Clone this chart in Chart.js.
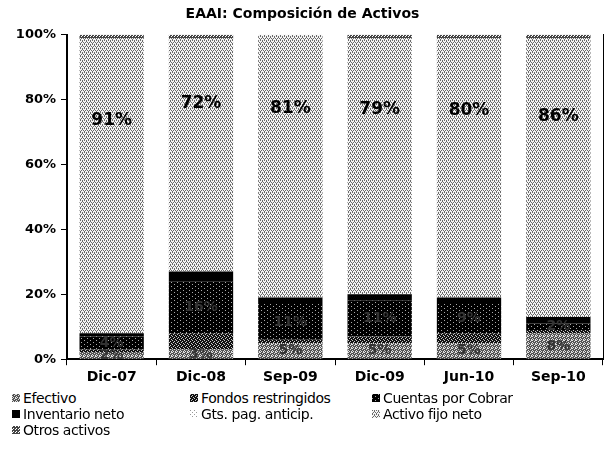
<!DOCTYPE html>
<html>
<head>
<meta charset="utf-8">
<script src="https://cdn.jsdelivr.net/npm/chart.js@4.4.0/dist/chart.umd.min.js"></script>
<style>
	body { margin: 0; background: #fff; }
	#wrap { width: 605px; height: 451px; position: relative; }
	#legend { position: absolute; left: 12px; top: 390px; width: 593px; display: grid;
		grid-template-columns: 178px 182px 230px; row-gap: 0;
		font: 14px "DejaVu Sans", sans-serif; color: #000; letter-spacing: -0.4px; }
	#legend span { display: flex; align-items: center; height: 16px; }
	#legend canvas { margin-right: 3px; }
</style>
</head>
<body>
<div id="wrap">
	<canvas id="assetChart" width="605" height="390"></canvas>
	<div id="legend"></div>
</div>
<script>
"use strict"

const periods = ["Dic-07", "Dic-08", "Sep-09", "Dic-09", "Jun-10", "Sep-10"]
const seriesNames = ["Efectivo", "Fondos restringidos", "Cuentas por Cobrar", "Inventario neto", "Gts. pag. anticip.", "Activo fijo neto", "Otros activos"]

const efectivo = [2, 3, 5, 5, 5, 8]
const fondosRestringidos = [1, 5, 1, 2, 3, 1]
const cuentasPorCobrar = [4, 16, 11, 11, 9, 2]
const inventarioNeto = [1, 3, 2, 2, 2, 2]
const gastosAnticipados = [0, 0, 0, 0, 0, 0]
const activoFijoNeto = [91, 72, 81, 79, 80, 86]
const otrosActivos = [1, 1, 0, 1, 1, 1]

const yTicks = [0, 20, 40, 60, 80, 100]

// little bitmap tiles for the excel-ish hatch fills
function makeTile(bg, fg, rows) {
	let c = document.createElement("canvas")
	c.width = rows[0].length
	c.height = rows.length
	let g = c.getContext("2d")
	g.fillStyle = bg
	g.fillRect(0, 0, c.width, c.height)
	g.fillStyle = fg
	rows.forEach((row, y) => {
		for (let x = 0; x < row.length; x++) {
			if (row[x] === "#") g.fillRect(x, y, 1, 1)
		}
	})
	return c
}

const tiles = [
	makeTile("#555555", "#e0e0e0", ["#..#", "..#.", "#...", ".#.#"]),
	makeTile("#111111", "#c8c8c8", ["#...", "..#.", ".#..", "...#"]),
	makeTile("#000000", "#aaaaaa", ["#.....", "......", "...#..", "......"]),
	makeTile("#000000", "#000000", ["."]),
	makeTile("#ffffff", "#999999", ["#...", "....", "..#.", "...."]),
	makeTile("#f4f4f4", "#6a6a6a", ["#.#.", "..#.", ".#.#", "#..."]),
	makeTile("#444444", "#ffffff", ["#..", "...", ".#."]),
]

let ctx = document.getElementById("assetChart").getContext("2d")
const fills = tiles.map((t) => ctx.createPattern(t, "repeat"))

const values = [efectivo, fondosRestringidos, cuentasPorCobrar, inventarioNeto, gastosAnticipados, activoFijoNeto, otrosActivos]
const labelStyle = { 0: "dark", 2: "dark", 5: "big" }

const segmentLabels = {
	id: "segmentLabels",
	afterDatasetsDraw(chart) {
		let g = chart.ctx
		let y = chart.scales.y
		g.save()
		g.textAlign = "center"
		g.textBaseline = "middle"
		chart.data.datasets.forEach((ds, i) => {
			let kind = labelStyle[i]
			if (!kind) return
			chart.getDatasetMeta(i).data.forEach((bar, j) => {
				let v = ds.data[j]
				if (!v) return
				let ypos
				if (kind === "big") {
					let start = 0
					for (let k = 0; k < i; k++) start += chart.data.datasets[k].data[j]
					ypos = y.getPixelForValue(start + 0.72 * v)
					g.font = "bold 17px 'DejaVu Sans', sans-serif"
					g.fillStyle = "#000"
				} else {
					ypos = (bar.y + bar.base) / 2
					g.font = "bold 14px 'DejaVu Sans', sans-serif"
					g.fillStyle = "#333"
				}
				g.fillText(v + "%", bar.x, ypos)
			})
		})
		g.restore()
	},
}

new Chart(ctx, {
	type: "bar",
	data: {
		labels: periods,
		datasets: seriesNames.map((name, i) => ({
			label: name,
			data: values[i],
			backgroundColor: fills[i],
			borderWidth: 0,
			barPercentage: 0.72,
			categoryPercentage: 1,
		})),
	},
	plugins: [segmentLabels],
	options: {
		responsive: false,
		animation: false,
		layout: { padding: { top: 0, right: 0, left: 0, bottom: 0 } },
		plugins: {
			legend: { display: false },
			tooltip: { enabled: false },
			title: {
				display: true,
				text: "EAAI: Composición de Activos",
				color: "#000",
				font: { family: "DejaVu Sans", size: 14, weight: "bold" },
				padding: { top: 6, bottom: 12 },
			},
		},
		scales: {
			x: {
				stacked: true,
				border: { color: "#000", width: 2 },
				grid: { display: true, drawOnChartArea: false, offset: true, color: "#000", tickLength: 6 },
				ticks: { color: "#000", font: { family: "DejaVu Sans", size: 14, weight: "bold" }, padding: 4 },
			},
			y: {
				stacked: true,
				min: 0,
				max: 100,
				afterFit: (axis) => { axis.width = 67 },
				afterBuildTicks: (axis) => { axis.ticks = yTicks.map((v) => ({ value: v })) },
				border: { color: "#000", width: 2 },
				grid: { drawOnChartArea: false, color: "#000", tickLength: 6 },
				ticks: {
					color: "#000",
					font: { family: "DejaVu Sans", size: 13, weight: "bold" },
					padding: 5,
					callback: (v) => v + "%",
				},
			},
			right: {
				position: "right",
				min: 0,
				max: 100,
				afterFit: (axis) => { axis.width = 2 },
				border: { color: "#000", width: 1 },
				grid: { display: false },
				ticks: { display: false },
			},
		},
	},
})

// legend in three columns like the original
let legend = document.getElementById("legend")
seriesNames.forEach((name, i) => {
	let item = document.createElement("span")
	let sw = document.createElement("canvas")
	sw.width = 8
	sw.height = 8
	let sg = sw.getContext("2d")
	sg.fillStyle = sg.createPattern(tiles[i], "repeat")
	sg.fillRect(0, 0, 8, 8)
	item.appendChild(sw)
	item.appendChild(document.createTextNode(name))
	legend.appendChild(item)
})
</script>
</body>
</html>
